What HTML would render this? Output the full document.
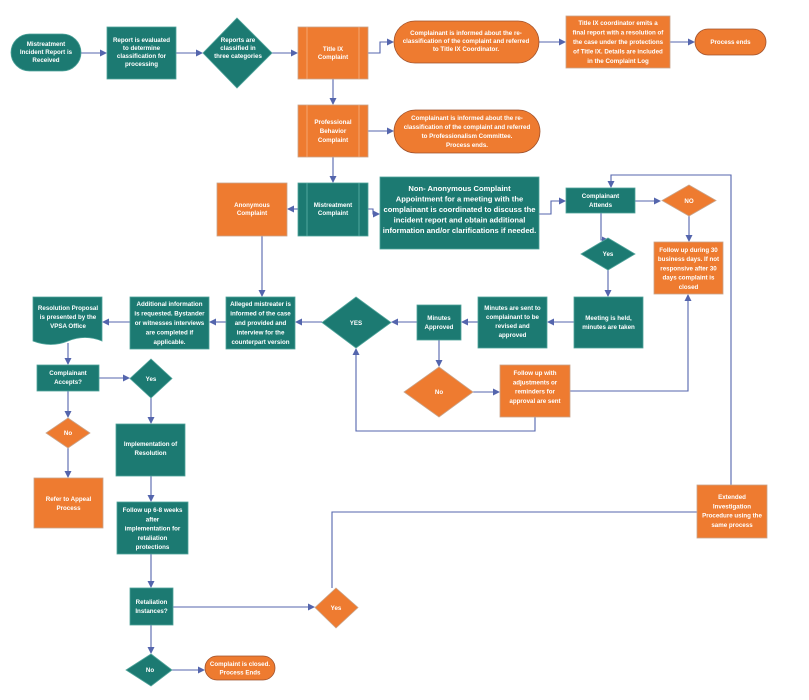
<!DOCTYPE html>
<html><head><meta charset="utf-8"><style>
html,body{margin:0;padding:0;background:#fff}
svg{display:block}
text{font-family:"Liberation Sans",sans-serif;font-weight:bold;fill:#fff;font-size:6.2px;text-anchor:middle}
.t{fill:#1c7a72;stroke:#4fa39a;stroke-width:0.8}
.o{fill:#ee7b30;stroke:#c9a48a;stroke-width:0.8}
.l{fill:none;stroke:#5465ad;stroke-width:1.1}
</style></head><body>
<svg width="809" height="700" viewBox="0 0 809 700" xmlns="http://www.w3.org/2000/svg">
<defs><marker id="a" markerWidth="7" markerHeight="7" refX="6" refY="3.5" orient="auto" markerUnits="userSpaceOnUse"><path d="M0,0 L7,3.5 L0,7z" fill="#5465ad"/></marker></defs>

<g class="l" marker-end="url(#a)">
<path d="M81,53 H106"/>
<path d="M176,53 H202"/>
<path d="M272,53 H297"/>
<path d="M368,53 H380 V42 H393"/>
<path d="M539,42 H565"/>
<path d="M670,42 H694"/>
<path d="M333,79 V104"/>
<path d="M368,131 H393"/>
<path d="M333,157 V182"/>
<path d="M298,209 H288"/>
<path d="M368,209 H373 V214 H379"/>
<path d="M539,214 H551 V201 H565"/>
<path d="M635,201 H660"/>
<path d="M689,216 V241"/>
<path d="M601,213 V240 H608"/>
<path d="M608,270 V296"/>
<path d="M574,322 H548"/>
<path d="M478,322 H462"/>
<path d="M417,322 H392"/>
<path d="M322,322 H296"/>
<path d="M226,322 H210"/>
<path d="M130,322 H103"/>
<path d="M262,236 V296"/>
<path d="M439,340 V366"/>
<path d="M473,392 H499"/>
<path d="M570,391 H688 V295"/>
<path d="M535,417 V431 H356 V349"/>
<path d="M731,485 V175 H611 V187"/>
<path d="M68,343 V364"/>
<path d="M99,378 H129"/>
<path d="M68,391 V417"/>
<path d="M68,448 V477"/>
<path d="M151,398 V423"/>
<path d="M151,476 V501"/>
<path d="M151,554 V587"/>
<path d="M173,607 H314"/>
<path d="M697,512 H332 V588" marker-end="none"/>
<path d="M151,625 V653"/>
<path d="M172,670 H204"/>
</g>

<rect class="t" x="11" y="34" width="70" height="37" rx="18.5"/>
<text x="46" y="46">Mistreatment<tspan x="46" dy="8">Incident Report is</tspan><tspan x="46" dy="8">Received</tspan></text>
<rect class="t" x="107" y="27" width="69" height="52"/>
<text x="141.5" y="42">Report is evaluated<tspan x="141.5" dy="8">to determine</tspan><tspan x="141.5" dy="8">classification for</tspan><tspan x="141.5" dy="8">processing</tspan></text>
<polygon class="t" points="237,18 272,53 237,88 203,53"/>
<text x="238" y="42">Reports are<tspan x="238" dy="8">classified in</tspan><tspan x="238" dy="8">three categories</tspan></text>
<rect class="o" x="298" y="27" width="70" height="52"/>
<path d="M307,27 V79 M359,27 V79" stroke="#f5b07f" stroke-width="0.8"/>
<text x="333" y="51">Title IX<tspan x="333" dy="8">Complaint</tspan></text>
<rect class="o" x="394" y="21" width="145" height="42" rx="21" style="stroke:#a0522d"/>
<text x="466" y="35">Complainant is informed about the re-<tspan x="466" dy="8">classification of the complaint and referred</tspan><tspan x="466" dy="8">to Title IX Coordinator.</tspan></text>
<rect class="o" x="566" y="16" width="104" height="52"/>
<text x="618" y="25">Title IX coordinator emits a<tspan x="618" dy="9.5">final report with a resolution of</tspan><tspan x="618" dy="9.5">the case under the protections</tspan><tspan x="618" dy="9.5">of Title IX. Details are included</tspan><tspan x="618" dy="9.5">in the Complaint Log</tspan></text>
<rect class="o" x="695" y="29" width="71" height="26" rx="13" style="stroke:#a0522d"/>
<text x="730.5" y="44">Process ends</text>

<rect class="o" x="298" y="105" width="70" height="52"/>
<path d="M307,105 V157 M359,105 V157" stroke="#f5b07f" stroke-width="0.8"/>
<text x="333" y="124">Professional<tspan x="333" dy="9">Behavior</tspan><tspan x="333" dy="9">Complaint</tspan></text>
<rect class="o" x="394" y="110" width="146" height="43" rx="21.5" style="stroke:#a0522d"/>
<text x="467" y="120">Complainant is informed about the re-<tspan x="467" dy="9">classification of the complaint and referred</tspan><tspan x="467" dy="9">to Professionalism Committee.</tspan><tspan x="467" dy="9">Process ends.</tspan></text>

<rect class="o" x="217" y="183" width="70" height="53"/>
<text x="252" y="207">Anonymous<tspan x="252" dy="8">Complaint</tspan></text>
<rect class="t" x="298" y="183" width="70" height="53"/>
<path d="M307,183 V236 M359,183 V236" stroke="#5fb3a9" stroke-width="0.8"/>
<text x="333" y="207">Mistreatment<tspan x="333" dy="8">Complaint</tspan></text>
<rect class="t" x="380" y="177" width="159" height="72"/>
<text x="459.5" y="191" style="font-size:7.6px">Non- Anonymous Complaint<tspan x="459.5" dy="10.5">Appointment for a meeting with the</tspan><tspan x="459.5" dy="10.5">complainant is coordinated to discuss the</tspan><tspan x="459.5" dy="10.5">incident report and obtain additional</tspan><tspan x="459.5" dy="10.5">information and/or clarifications if needed.</tspan></text>
<rect class="t" x="566" y="188" width="69" height="25"/>
<text x="600.5" y="198">Complainant<tspan x="600.5" dy="9">Attends</tspan></text>
<polygon class="o" points="689,185 716,200.5 689,216 662,200.5"/>
<text x="689" y="203">NO</text>
<polygon class="t" points="608,238 635,254 608,270 581,254"/>
<text x="608" y="256">Yes</text>
<rect class="o" x="654" y="242" width="69" height="52"/>
<text x="688.5" y="252">Follow up during 30<tspan x="688.5" dy="9.2">business days.  If not</tspan><tspan x="688.5" dy="9.2">responsive after 30</tspan><tspan x="688.5" dy="9.2">days complaint is</tspan><tspan x="688.5" dy="9.2">closed</tspan></text>

<rect class="t" x="574" y="297" width="69" height="51"/>
<text x="608.5" y="320">Meeting is held,<tspan x="608.5" dy="9">minutes are taken</tspan></text>
<rect class="t" x="478" y="297" width="69" height="51"/>
<text x="512.5" y="310">Minutes are sent to<tspan x="512.5" dy="9">complainant to be</tspan><tspan x="512.5" dy="9">revised and</tspan><tspan x="512.5" dy="9">approved</tspan></text>
<rect class="t" x="417" y="305" width="44" height="35"/>
<text x="439" y="320">Minutes<tspan x="439" dy="9">Approved</tspan></text>
<polygon class="t" points="356,297 391,322.5 356,348 322,322.5"/>
<text x="356" y="325">YES</text>
<rect class="t" x="226" y="297" width="69" height="52"/>
<text x="260.5" y="306">Alleged mistreater is<tspan x="260.5" dy="9.5">informed of the case</tspan><tspan x="260.5" dy="9.5">and provided and</tspan><tspan x="260.5" dy="9.5">interview for the</tspan><tspan x="260.5" dy="9.5">counterpart version</tspan></text>
<rect class="t" x="130" y="297" width="79" height="52"/>
<text x="169.5" y="306">Additional information<tspan x="169.5" dy="9.5">is requested.  Bystander</tspan><tspan x="169.5" dy="9.5">or witnesses interviews</tspan><tspan x="169.5" dy="9.5">are completed if</tspan><tspan x="169.5" dy="9.5">applicable.</tspan></text>
<path class="t" d="M33,297 H102 V341 Q85,334 68,341 T33,341 Z"/>
<text x="68" y="310">Resolution Proposal<tspan x="68" dy="9">is presented by the</tspan><tspan x="68" dy="9">VPSA Office</tspan></text>

<polygon class="o" points="439,367 473,392 439,417 404,392"/>
<text x="439" y="394">No</text>
<rect class="o" x="500" y="365" width="70" height="52"/>
<text x="535" y="375">Follow up with<tspan x="535" dy="9.3">adjustments or</tspan><tspan x="535" dy="9.3">reminders for</tspan><tspan x="535" dy="9.3">approval are sent</tspan></text>
<rect class="t" x="37" y="365" width="62" height="26"/>
<text x="68" y="375">Complainant<tspan x="68" dy="9">Accepts?</tspan></text>
<polygon class="t" points="151,359 172,378.5 151,398 130,378.5"/>
<text x="151" y="381">Yes</text>
<polygon class="o" points="68,418 90,433 68,448 46,433"/>
<text x="68" y="435">No</text>
<rect class="t" x="116" y="424" width="69" height="52"/>
<text x="150.5" y="446">Implementation of<tspan x="150.5" dy="9">Resolution</tspan></text>
<rect class="o" x="34" y="478" width="69" height="50"/>
<text x="68.5" y="501">Refer to Appeal<tspan x="68.5" dy="9">Process</tspan></text>
<rect class="t" x="117" y="502" width="71" height="52"/>
<text x="152.5" y="512">Follow up 6-8 weeks<tspan x="152.5" dy="9.3">after</tspan><tspan x="152.5" dy="9.3">implementation for</tspan><tspan x="152.5" dy="9.3">retaliation</tspan><tspan x="152.5" dy="9.3">protections</tspan></text>
<rect class="o" x="697" y="485" width="70" height="53"/>
<text x="732" y="499">Extended<tspan x="732" dy="9.3">Investigation</tspan><tspan x="732" dy="9.3">Procedure using the</tspan><tspan x="732" dy="9.3">same process</tspan></text>
<rect class="t" x="130" y="588" width="43" height="37"/>
<text x="151.5" y="604">Retaliation<tspan x="151.5" dy="9">Instances?</tspan></text>
<polygon class="o" points="336,588 358,607.5 336,628 315,607.5"/>
<text x="336" y="610">Yes</text>
<polygon class="t" points="151,654 172,670 151,686 126,670"/>
<text x="150" y="672">No</text>
<rect class="o" x="205" y="656" width="70" height="24" rx="12" style="stroke:#a0522d"/>
<text x="240" y="666">Complaint is closed.<tspan x="240" dy="8.5">Process Ends</tspan></text>
</svg>
</body></html>
